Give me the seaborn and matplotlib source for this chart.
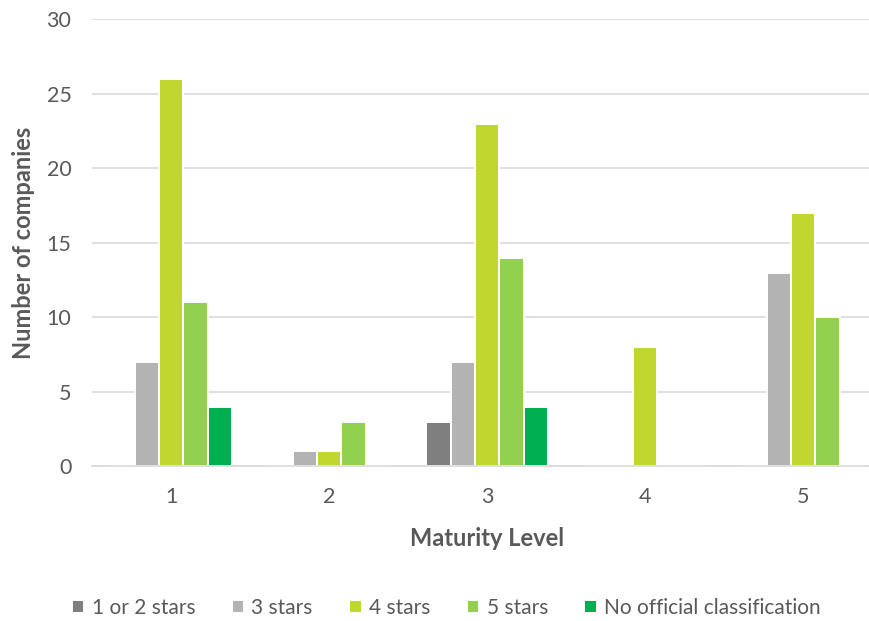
import seaborn as sns
import matplotlib.pyplot as plt
import pandas as pd

levels = ["1", "2", "3", "4", "5"]
series = ["1 or 2 stars", "3 stars", "4 stars", "5 stars", "No official classification"]
one_two_stars = [0, 0, 3, 0, 0]
three_stars = [7, 1, 7, 0, 13]
four_stars = [26, 1, 23, 8, 17]
five_stars = [11, 3, 14, 0, 10]
no_class = [4, 0, 4, 0, 0]

colors = ["#7f7f7f", "#b3b3b3", "#c1d62e", "#92d050", "#00b050"]

rows = []
for name, vals in zip(series, [one_two_stars, three_stars, four_stars, five_stars, no_class]):
    for lvl, v in zip(levels, vals):
        rows.append({"level": lvl, "series": name, "count": v})
df = pd.DataFrame(rows)

sns.set_theme(style="white")
plt.rcParams['font.family'] = ['Lato', 'DejaVu Sans']
text_color = "#595959"

fig = plt.figure(figsize=(8.7, 6.21), dpi=100)
# the plot area runs past the right edge of the picture, as in the original
ax = fig.add_axes([0.106, 0.249, 0.908, 0.72])
sns.barplot(data=df, x="level", y="count", hue="series", hue_order=series,
            palette=dict(zip(series, colors)), saturation=1, width=0.77, ax=ax,
            edgecolor="white", linewidth=1.4, errorbar=None, legend=True)

ax.set_ylim(0, 30)
ax.set_yticks(range(0, 31, 5))
ax.set_xlim(-0.5, 4.5)
ax.yaxis.grid(True, color="#d9d9d9", linewidth=1.2)
ax.set_axisbelow(True)
for s in ["top", "right", "left"]:
    ax.spines[s].set_visible(False)
ax.spines["bottom"].set_color("#d9d9d9")
ax.spines["bottom"].set_linewidth(1.2)
ax.tick_params(axis="both", colors=text_color, labelsize=15.5, length=0)
ax.tick_params(axis="x", pad=15)
ax.tick_params(axis="y", pad=15)
ax.set_xlabel("Maturity Level", fontsize=17, fontweight="bold", color=text_color, labelpad=14)
ax.set_ylabel("Number of companies", fontsize=17, fontweight="bold", color=text_color, labelpad=8)

handles, labels = ax.get_legend_handles_labels()
ax.get_legend().remove()
fig.legend(handles, labels, loc="center", bbox_to_anchor=(0.513, 0.021), ncol=5,
           frameon=False, fontsize=15, handlelength=0.6, handleheight=0.6,
           handletextpad=0.35, columnspacing=1.75, labelcolor=text_color)

fig.savefig("out.png", dpi=100)
